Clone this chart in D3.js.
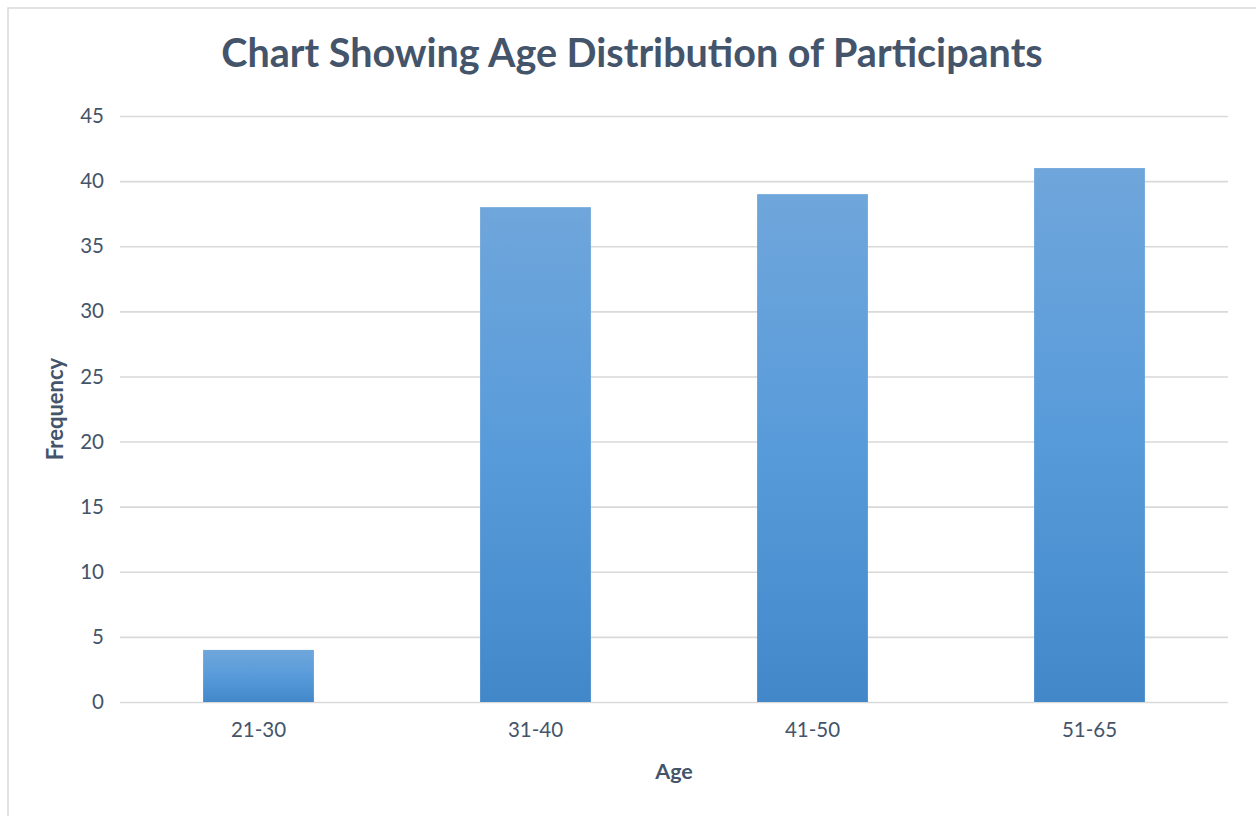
<!DOCTYPE html>
<html>
<head>
<meta charset="utf-8">
<script src="https://cdn.jsdelivr.net/npm/d3@7"></script>
<style>
  html, body { margin: 0; padding: 0; background: #ffffff; }
  svg { display: block; }
  text { font-family: Lato, "Open Sans", "Noto Sans", sans-serif; }
</style>
</head>
<body>
<svg id="chart" width="1256" height="816"></svg>
<script>
// Age groups and how many participants fall in each
const ageGroups = ["21-30", "31-40", "41-50", "51-65"];
const frequencies = [4, 38, 39, 41];
const yTicks = [0, 5, 10, 15, 20, 25, 30, 35, 40, 45];

const titleText = "Chart Showing Age Distribution of Participants";
const xTitle = "Age";
const yTitle = "Frequency";

const W = 1256, H = 816;
const margin = { left: 120, right: 28, top: 116, bottom: 114 };
const svg = d3.select("#chart");

// outer chart frame
svg.append("rect")
  .attr("x", 8).attr("y", 8)
  .attr("width", W + 10).attr("height", H + 10)
  .attr("fill", "#ffffff")
  .attr("stroke", "#d9d9d9").attr("stroke-width", 1.5);

const x = d3.scaleBand()
  .domain(ageGroups)
  .range([margin.left, W - margin.right])
  .paddingInner(0.6)
  .paddingOuter(0.3);

const y = d3.scaleLinear()
  .domain([0, 45])
  .range([H - margin.bottom, margin.top]);

// vertical gradient for the bars, light at the top, deeper at the base
const defs = svg.append("defs");
const grad = defs.append("linearGradient")
  .attr("id", "barFill")
  .attr("x1", 0).attr("y1", 0).attr("x2", 0).attr("y2", 1);
grad.append("stop").attr("offset", "0%").attr("stop-color", "#6fa6db");
grad.append("stop").attr("offset", "50%").attr("stop-color", "#589bda");
grad.append("stop").attr("offset", "100%").attr("stop-color", "#4288c9");

// horizontal gridlines and y tick labels
const yAxis = d3.axisLeft(y)
  .tickValues(yTicks)
  .tickSize(-(W - margin.left - margin.right))
  .tickPadding(16)
  .tickFormat(d3.format("d"));

const gy = svg.append("g")
  .attr("transform", `translate(${margin.left},0)`)
  .call(yAxis);
gy.select(".domain").remove();
gy.selectAll(".tick line")
  .attr("stroke", "#d9d9d9")
  .attr("stroke-width", 1.6);
gy.selectAll(".tick text")
  .attr("fill", "#44546a")
  .attr("font-size", 20.5)
  .attr("font-family", 'Lato, "Open Sans", sans-serif');

// bars
svg.append("g")
  .selectAll("rect")
  .data(ageGroups.map((g, i) => ({ g, v: frequencies[i] })))
  .join("rect")
  .attr("x", d => x(d.g))
  .attr("y", d => y(d.v))
  .attr("width", x.bandwidth())
  .attr("height", d => y(0) - y(d.v))
  .attr("fill", "url(#barFill)");

// x axis category labels
const xAxis = d3.axisBottom(x).tickSize(0).tickPadding(20);
const gx = svg.append("g")
  .attr("transform", `translate(0,${y(0)})`)
  .call(xAxis);
gx.select(".domain").remove();
gx.selectAll(".tick text")
  .attr("fill", "#44546a")
  .attr("font-size", 20.5)
  .attr("font-family", 'Lato, "Open Sans", sans-serif');

// title
svg.append("text")
  .attr("x", 632)
  .attr("y", 67)
  .attr("text-anchor", "middle")
  .attr("font-size", 39.5)
  .attr("font-weight", "bold")
  .attr("fill", "#44546a")
  .text(titleText);

// axis titles
svg.append("text")
  .attr("x", (margin.left + W - margin.right) / 2)
  .attr("y", 779)
  .attr("text-anchor", "middle")
  .attr("font-size", 21.5)
  .attr("font-weight", "bold")
  .attr("fill", "#44546a")
  .text(xTitle);

svg.append("text")
  .attr("transform", `translate(63,${(y(0) + y(45)) / 2}) rotate(-90)`)
  .attr("text-anchor", "middle")
  .attr("font-size", 22)
  .attr("font-weight", "bold")
  .attr("fill", "#44546a")
  .text(yTitle);
</script>
</body>
</html>
